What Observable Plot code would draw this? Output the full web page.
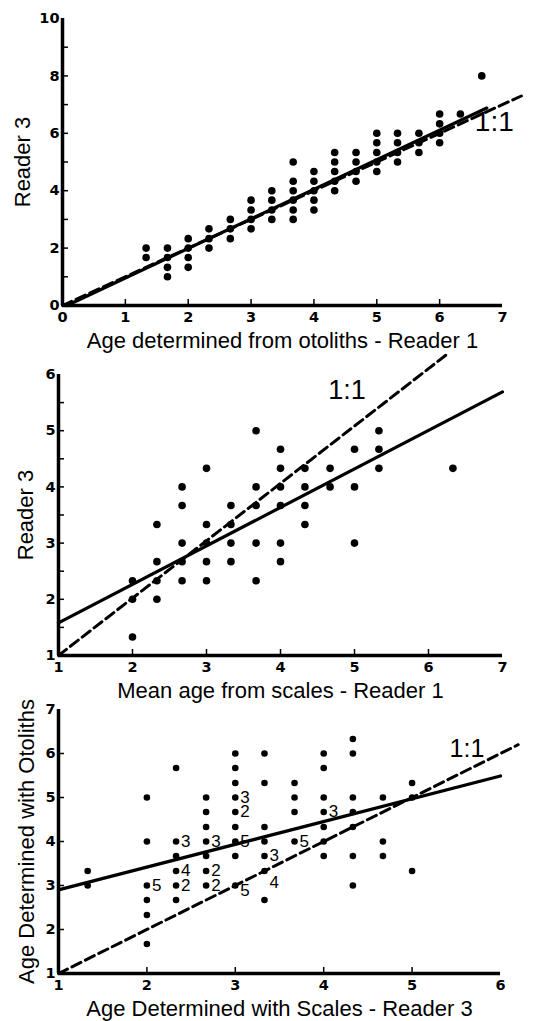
<!DOCTYPE html>
<html><head><meta charset="utf-8">
<script src="https://cdn.jsdelivr.net/npm/d3@7"></script>
<script src="https://cdn.jsdelivr.net/npm/@observablehq/plot@0.6"></script>
<style>
html,body{margin:0;padding:0;background:#fff;}
#wrap{position:relative;width:534px;height:1021px;overflow:hidden;background:#fff;}
#wrap > svg{position:absolute;left:0;}
</style></head><body><div id="wrap"></div>
<script>
// ---------- Panel 1: otoliths Reader 1 vs Reader 3 ----------
const p1X = [1.33,1.33, 1.67,1.67,1.67,1.67, 2,2,2,2, 2.33,2.33,2.33, 2.67,2.67,2.67,
  3,3,3,3, 3.33,3.33,3.33,3.33, 3.67,3.67,3.67,3.67,3.67,3.67, 4,4,4,4,4,
  4.33,4.33,4.33,4.33,4.33, 4.67,4.67,4.67,4.67, 5,5,5,5,5, 5.33,5.33,5.33,5.33,
  5.67,5.67,5.67, 6,6,6,6, 6.33, 6.67];
const p1Y = [2,1.67, 2,1.67,1.33,1, 2.33,2,1.67,1.33, 2.67,2.33,2, 3,2.67,2.33,
  3.67,3.33,3,2.67, 4,3.67,3.33,3, 5,4.33,4,3.67,3.33,3, 4.67,4.33,4,3.67,3.33,
  5.33,5,4.67,4.33,4, 5.33,5,4.67,4.33, 6,5.67,5.33,5,4.67, 6,5.67,5.33,5,
  6,5.67,5.33, 6.67,6.33,6,5.67, 6.67, 8];
const p1FitX = [0.07, 6.75], p1FitY = [0, 6.88];
const p1RefX = [0, 7.3], p1RefY = [0, 7.3];

// ---------- Panel 2: scales Reader 1 vs Reader 3 ----------
const p2X = [2,2,2, 2.33,2.33,2.33,2.33, 2.67,2.67,2.67,2.67,2.67, 3,3,3,3,3,
  3.33,3.33,3.33,3.33, 3.67,3.67,3.67,3.67,3.67, 4,4,4,4,4,4, 4.33,4.33,4.33,4.33,
  4.67,4.67, 5,5,5, 5.33,5.33,5.33, 6.33];
const p2Y = [2.33,2,1.33, 3.33,2.67,2.33,2, 4,3.67,3,2.67,2.33, 4.33,3.33,3,2.67,2.33,
  3.67,3.33,3,2.67, 5,4,3.67,3,2.33, 4.67,4.33,4,3.67,3,2.67, 4.33,4,3.67,3.33,
  4.33,4, 4.67,4,3, 5,4.67,4.33, 4.33];
const p2FitX = [1, 7], p2FitY = [1.58, 5.69];
const p2RefX = [1, 6.27], p2RefY = [1, 6.38];

// ---------- Panel 3: scales Reader 3 vs otoliths ----------
const p3X = [1.33,1.33, 2,2,2,2,2,2, 2.33,2.33,2.33,2.33,2.33,2.33,
  2.67,2.67,2.67,2.67,2.67,2.67,2.67, 3,3,3,3,3,3,3,3,3,
  3.33,3.33,3.33,3.33,3.33,3.33,3.33, 3.67,3.67,3.67,3.67,
  4,4,4,4,4,4,4, 4.33,4.33,4.33,4.33,4.33,4.33,4.33, 4.67,4.67,4.67, 5,5,5];
const p3Y = [3.33,3, 5,4,3,2.67,2.33,1.67, 5.67,4,3.67,3.33,3,2.67,
  5,4.67,4.33,4,3.67,3.33,3, 6,5.67,5.33,5,4.67,4.33,4,3.67,3,
  6,5.33,4.33,4,3.67,3.33,2.67, 5.33,5,4.67,4,
  6,5.67,5,4.67,4.33,4,3.67, 6.33,6,5,4.67,4.33,3.67,3, 5,4,3.67, 5.33,5,3.33];
// number of coinciding fish beside some points
const p3CountX = [2, 2.33, 2.33, 2.33, 2.67, 2.67, 2.67, 3, 3, 3, 3, 3.33, 3.33, 3.67, 4];
const p3CountY = [3, 4, 3.33, 3, 4, 3.33, 3, 5, 4.67, 4, 2.89, 3.67, 3.06, 4, 4.67];
const p3CountText = ["5","3","4","2","3","2","2","3","2","5","5","3","4","5","3"];
const p3FitX = [1, 6], p3FitY = [2.9, 5.49];
const p3RefX = [1, 6.2], p3RefY = [1, 6.2];

// "1:1" label positions (data units) for the three panels
const refLabelX = [6.87, 4.90, 5.62];
const refLabelY = [6.38, 5.72, 6.10];
const refLabelSize = [28, 27, 25];

const FONT = "'Liberation Sans', Arial, Helvetica, sans-serif";
const TICKFONT = "'DejaVu Sans', 'Liberation Sans', sans-serif";
const wrap = document.getElementById("wrap");

function pts(xs, ys) { return xs.map((x, i) => ({x, y: ys[i]})); }

function panel(o) {
  const fw = 534 - o.ml - o.mr, fh = o.height - o.mt - o.mb;
  const marks = [
    // tick labels
    Plot.text(o.xTicks, {x: d => d, y: o.yDomain[0], text: d => String(d), dy: 12,
      fontSize: 14.5, fontWeight: "bold", fontFamily: TICKFONT, lineAnchor: "middle", textAnchor: "middle"}),
    Plot.text(o.yTicks, {x: o.xDomain[0], y: d => d, text: d => String(d), dx: -3,
      fontSize: 14.5, fontWeight: "bold", fontFamily: TICKFONT, lineAnchor: "middle", textAnchor: "end"}),
    // inward tick marks
    Plot.tickX(o.xTickMarks, {x: d => d, insetTop: fh - 6, strokeWidth: 1.5}),
    Plot.tickY(o.yTickMarks, {y: d => d, insetRight: fw - 6, strokeWidth: 1.5}),
    Plot.dot(pts(o.xs, o.ys), {x: "x", y: "y", r: o.r, fill: "black", stroke: "none"}),
  ];
  if (o.extra) marks.push(...o.extra);
  marks.push(
    Plot.line(pts(o.refX, o.refY), {x: "x", y: "y", strokeWidth: 3, strokeDasharray: "10,5"}),
    Plot.line(pts(o.fitX, o.fitY), {x: "x", y: "y", strokeWidth: 3.2}),
    Plot.ruleX([o.xDomain[0]], {strokeWidth: 3.5}),
    Plot.ruleY([o.yDomain[0]], {strokeWidth: 3.5}),
    Plot.text(["1:1"], {x: refLabelX[o.k], y: refLabelY[o.k], fontSize: refLabelSize[o.k]}),
    Plot.text([o.xLabel], {frameAnchor: "bottom", textAnchor: "middle", lineAnchor: "middle", dy: 35, fontSize: 22}),
    Plot.text([o.yLabel], {frameAnchor: "left", textAnchor: "middle", lineAnchor: "middle", rotate: -90, dx: o.yLabelDx, fontSize: 22})
  );
  const svg = Plot.plot({
    width: 534, height: o.height,
    marginTop: o.mt, marginBottom: o.mb, marginLeft: o.ml, marginRight: o.mr,
    style: {background: "transparent", overflow: "visible", fontFamily: FONT, color: "black"},
    x: {domain: o.xDomain, axis: null},
    y: {domain: o.yDomain, axis: null},
    marks
  });
  svg.style.top = o.top + "px";
  wrap.appendChild(svg);
}

panel({k: 0, top: 0, height: 360, mt: 18, mb: 55, ml: 62, mr: 32,
  xDomain: [0, 7], yDomain: [0, 10],
  xTicks: [0,1,2,3,4,5,6,7], yTicks: [0,2,4,6,8,10],
  xTickMarks: [1,2,3,4,5,6], yTickMarks: [1,2,3,4,5,6,7,8,9],
  xs: p1X, ys: p1Y, r: 3.8, fitX: p1FitX, fitY: p1FitY, refX: p1RefX, refY: p1RefY,
  xLabel: "Age determined from otoliths - Reader 1", yLabel: "Reader 3", yLabelDx: -40});

panel({k: 1, top: 355, height: 355, mt: 19, mb: 55, ml: 58, mr: 32,
  xDomain: [1, 7], yDomain: [1, 6],
  xTicks: [1,2,3,4,5,6,7], yTicks: [1,2,3,4,5,6],
  xTickMarks: [2,3,4,5,6], yTickMarks: [1.5,2,2.5,3,3.5,4,4.5,5,5.5],
  xs: p2X, ys: p2Y, r: 3.8, fitX: p2FitX, fitY: p2FitY, refX: p2RefX, refY: p2RefY,
  xLabel: "Mean age from scales - Reader 1", yLabel: "Reader 3", yLabelDx: -33});

panel({k: 2, top: 700, height: 321, mt: 9, mb: 48, ml: 58, mr: 34,
  xDomain: [1, 6], yDomain: [1, 7],
  xTicks: [1,2,3,4,5,6], yTicks: [1,2,3,4,5,6,7],
  xTickMarks: [2,3,4,5], yTickMarks: [2,3,4,5,6],
  xs: p3X, ys: p3Y, r: 3.3, fitX: p3FitX, fitY: p3FitY, refX: p3RefX, refY: p3RefY,
  extra: [Plot.text(p3CountText.map((t, i) => ({x: p3CountX[i], y: p3CountY[i], t})),
    {x: "x", y: "y", text: "t", dx: 5, textAnchor: "start", fontSize: 17})],
  xLabel: "Age Determined with Scales - Reader 3", yLabel: "Age Determined with Otoliths", yLabelDx: -32});
</script></body></html>
